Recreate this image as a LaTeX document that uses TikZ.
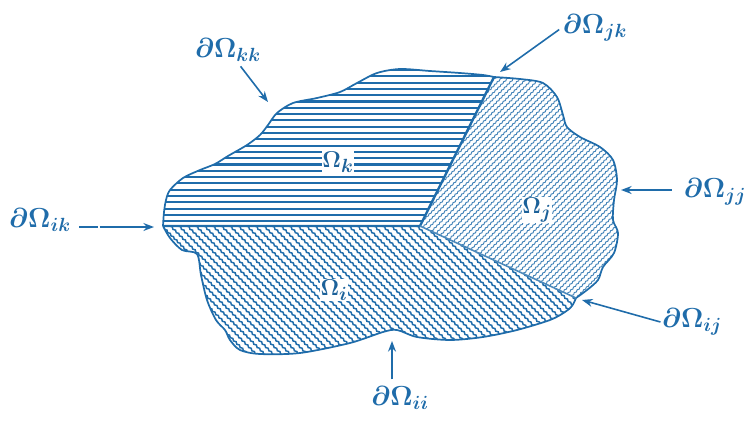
\documentclass[tikz,border=0pt]{standalone}
\usepackage{tikz}
\usetikzlibrary{arrows.meta,decorations.pathmorphing}
\definecolor{inkblue}{RGB}{31,108,170}
\tikzset{
  outline/.style={draw=inkblue, line width=1.3pt, line join=round},
  interface/.style={draw=inkblue, line width=1.8pt},
  hatchk/.style={inkblue, line width=1.6pt},
  hatchi/.style={inkblue, line width=1.1pt, decorate, decoration={snake, amplitude=0.5pt, segment length=3.5pt}},
  hatchj/.style={inkblue!85, line width=0.7pt, decorate, decoration={snake, amplitude=0.4pt, segment length=3pt}},
  bndlabel/.style={text=inkblue, font=\fontsize{20}{24}\selectfont\boldmath, inner sep=1pt},
  reglabel/.style={text=inkblue!90!black, font=\fontsize{19}{23}\selectfont\boldmath, fill=white, inner sep=0.5pt},
  pointer/.style={draw=inkblue, line width=1.2pt, -{Stealth[length=8pt,width=6pt]}},
}
% outer edges of the three sub-domains
\def\kedge{plot[smooth] coordinates {(163,226) (164,212) (166,200) (170,190) (183,178) (200,170) (215,164) (228,156) (247,145) (260,135) (268,125) (277,113) (293,103) (317,98) (340,92) (357,83) (377,73) (400,69) (430,71) (460,73) (483,75) (494,77)}}
\def\jedge{plot[smooth] coordinates {(494,77) (520,79) (543,83) (557,97) (563,115) (567,127) (580,137) (600,147) (613,160) (617,180) (614,200) (613,220) (618,233) (614,253) (603,267) (598,280) (587,290) (576,298)}}
\def\iedge{plot[smooth] coordinates {(576,298) (572,306) (565,312) (550,320) (517,330) (483,337) (450,340) (417,337) (397,330) (383,332) (350,343) (300,353) (260,354) (240,350) (230,340) (225,330) (216,320) (207,300) (201,275) (197,254) (182,250) (170,238) (163,226)}}

\begin{document}
\begin{tikzpicture}[x=0.0265cm, y=-0.0265cm]
  \useasboundingbox (0,0) rectangle (754,422);

  \coordinate (L) at (163,226);
  \coordinate (J) at (420,226);
  \coordinate (T) at (494,77);
  \coordinate (R) at (576,298);

  % Omega_k : straight horizontal hatching
  \begin{scope}
    \clip \kedge -- (J) -- cycle;
    \foreach \y in {70,76.3,...,230}
      \draw[hatchk] (150,\y) -- (500,\y);
  \end{scope}

  % Omega_j : fine wavy hatching
  \begin{scope}
    \clip \jedge -- (J) -- cycle;
    \foreach \c in {490,496.4,...,930}
      \draw[hatchj] ({\c-60},60) -- ({\c-320},320);
  \end{scope}

  % Omega_i : wavy hatching the other way
  \begin{scope}
    \clip \iedge -- (J) -- cycle;
    \foreach \c in {-200,-191.5,...,370}
      \draw[hatchi] ({200+\c},200) -- ({400+\c},400);
  \end{scope}

  \draw[outline] \kedge;
  \draw[outline] \jedge;
  \draw[outline] \iedge;

  \draw[interface] (L) -- (J) -- (T);
  \draw[interface, line width=1.2pt, draw=inkblue!80] (J) -- (R);

  \node[reglabel] (Ok) at (338,162) {$\Omega_k$};
  \node[reglabel] (Oj) at (537,210) {$\Omega_j$};
  \node[reglabel] (Oi) at (334,290) {$\Omega_i$};

  \node[bndlabel] (kk) at (228,50) {$\partial\Omega_{kk}$};
  \node[bndlabel] (jk) at (595,28) {$\partial\Omega_{jk}$};
  \node[bndlabel] (jj) at (715,192) {$\partial\Omega_{jj}$};
  \node[bndlabel] (ik) at (40,220) {$\partial\Omega_{ik}$};
  \node[bndlabel] (ij) at (692,322) {$\partial\Omega_{ij}$};
  \node[bndlabel] (ii) at (400,398) {$\partial\Omega_{ii}$};

  \coordinate (kkpt) at (268,102);
  \coordinate (jkpt) at (500,72);
  \coordinate (jjpt) at (621,190);
  \coordinate (ikpt) at (154,227);
  \coordinate (ijpt) at (582,300);
  \coordinate (iipt) at (392,341);

  \draw[pointer, shorten <=3pt] (kk) -- (kkpt);
  \draw[pointer, shorten <=2pt] (jk.west) -- (jkpt);
  \draw[pointer, shorten <=8pt] (jj.west |- jjpt) -- (jjpt);
  \draw[pointer, shorten <=5pt, dash pattern={on 14pt off 1.5pt on 80pt}] (ik.east |- ikpt) -- (ikpt);
  \draw[pointer] (ij.west) -- (ijpt);
  \draw[pointer, shorten <=4pt] (ii.north -| iipt) -- (iipt);
\end{tikzpicture}
\end{document}
